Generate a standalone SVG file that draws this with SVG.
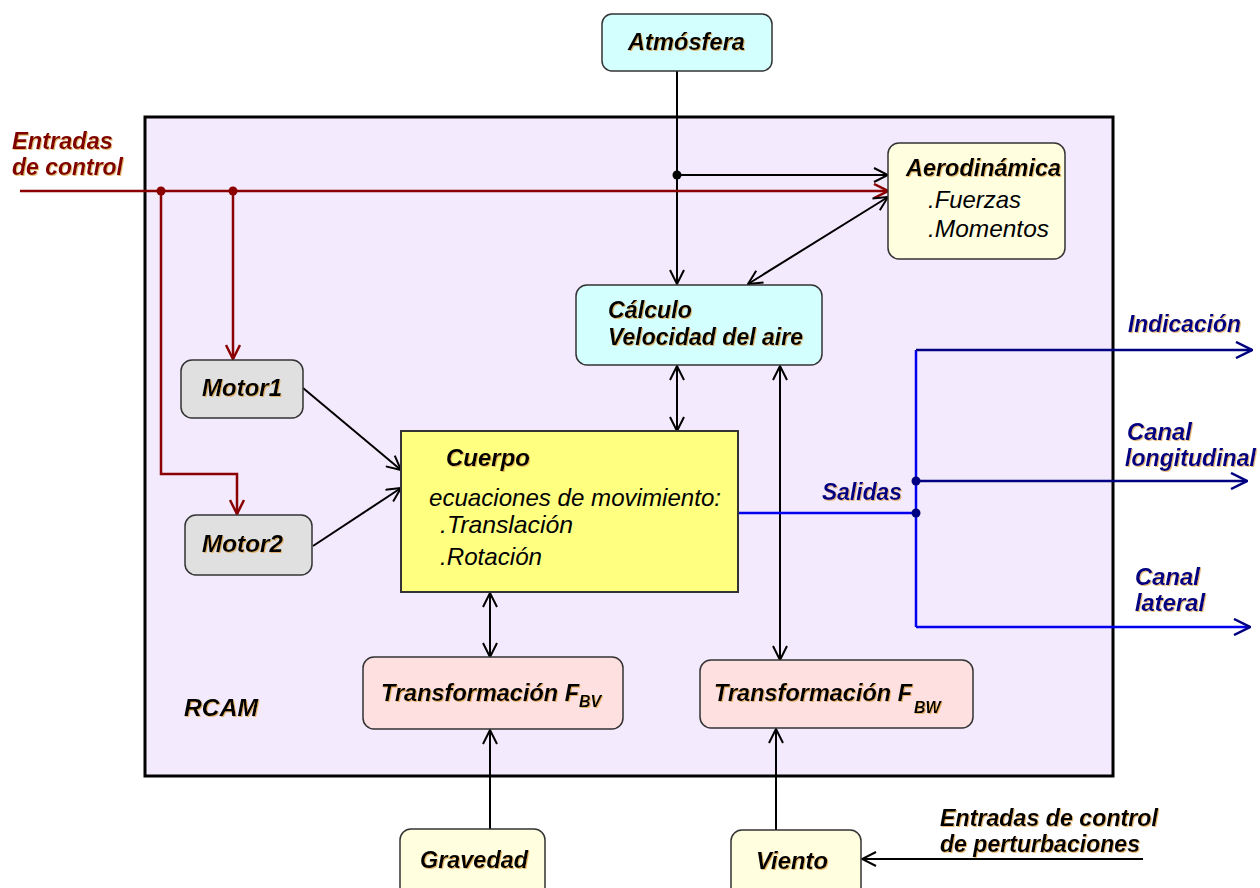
<svg xmlns="http://www.w3.org/2000/svg" width="1260" height="888" viewBox="0 0 1260 888">
<defs>
<style>
.t{font-family:"Liberation Sans",Arial,sans-serif;font-style:italic;font-size:24px;fill:#000}
.b{font-weight:bold;filter:url(#sh)}
.red{fill:#800000}
.blu{fill:#000080}
.tr{font-size:23.5px}
.sub{font-size:16px}
.node{stroke:#333;stroke-width:1.5}
.ln{fill:none;stroke:#000;stroke-width:2}
.lr{fill:none;stroke:#8b0000;stroke-width:2.5}
.lb{fill:none;stroke:#0000ee;stroke-width:2.5}
.ln2{fill:none;stroke:#000080;stroke-width:2.5}
</style>
<filter id="sh" x="-5%" y="-20%" width="110%" height="150%">
<feDropShadow dx="1" dy="1" stdDeviation="0.6" flood-color="#e0a040" flood-opacity="0.7"/>
</filter>
<marker id="ak" viewBox="0 0 16 16" refX="15" refY="8" markerWidth="16" markerHeight="16" markerUnits="userSpaceOnUse" orient="auto-start-reverse">
<path d="M1,1 L15,8 L1,15" fill="none" stroke="#000" stroke-width="2"/>
</marker>
<marker id="ar" viewBox="0 0 16 16" refX="15" refY="8" markerWidth="16" markerHeight="16" markerUnits="userSpaceOnUse" orient="auto-start-reverse">
<path d="M1,1 L15,8 L1,15" fill="none" stroke="#8b0000" stroke-width="2.5"/>
</marker>
<marker id="ab" viewBox="0 0 18 18" refX="17" refY="9" markerWidth="18" markerHeight="18" markerUnits="userSpaceOnUse" orient="auto">
<path d="M1,1 L17,9 L1,17" fill="none" stroke="#000080" stroke-width="2.5"/>
</marker>
</defs>
<rect width="1260" height="888" fill="#fff"/>

<g id="rcam">
<rect x="145" y="117" width="968" height="659" fill="#f4eafd" stroke="#000" stroke-width="3"/>
<text class="t b" x="184" y="716" textLength="74" lengthAdjust="spacingAndGlyphs">RCAM</text>
</g>

<g id="connectors">
<path class="ln" d="M677,71 V284" marker-end="url(#ak)"/>
<path class="ln" d="M677,175 H888" marker-end="url(#ak)"/>
<path class="lr" d="M20,191 H888" marker-end="url(#ar)"/>
<path class="lr" d="M233,191 V359" marker-end="url(#ar)"/>
<path class="lr" d="M161,191 V474 H237 V514" marker-end="url(#ar)"/>
<path class="ln" d="M888,197 L748,284" marker-start="url(#ak)" marker-end="url(#ak)"/>
<path class="ln" d="M303,388 L401,470" marker-end="url(#ak)"/>
<path class="ln" d="M313,546 L401,488" marker-end="url(#ak)"/>
<path class="ln" d="M677,366 V431" marker-start="url(#ak)" marker-end="url(#ak)"/>
<path class="ln" d="M780,366 V660" marker-start="url(#ak)" marker-end="url(#ak)"/>
<path class="ln" d="M490,593 V657" marker-start="url(#ak)" marker-end="url(#ak)"/>
<path class="ln" d="M490,829 V730" marker-end="url(#ak)"/>
<path class="ln" d="M776,830 V729" marker-end="url(#ak)"/>
<path class="ln" stroke-width="2.5" d="M1143,859 H862" marker-end="url(#ak)"/>
<path class="lb" d="M738,513 H916"/>
<path class="lb" d="M916,350 V627"/>
<path class="ln2" d="M916,350 H1252" marker-end="url(#ab)"/>
<path class="ln2" d="M916,481 H1247" marker-end="url(#ab)"/>
<path class="lb" d="M916,627 H1250" marker-end="url(#ab)"/>
<circle cx="677" cy="175" r="4.5" fill="#000"/>
<circle cx="161" cy="191" r="4.5" fill="#8b0000"/>
<circle cx="233" cy="191" r="4.5" fill="#8b0000"/>
<circle cx="916" cy="481" r="4.5" fill="#000080"/>
<circle cx="916" cy="513" r="4.5" fill="#000080"/>
</g>

<g id="entradas-control">
<text class="t b red" x="12" y="149" textLength="101" lengthAdjust="spacingAndGlyphs">Entradas</text>
<text class="t b red" x="12" y="175" textLength="111" lengthAdjust="spacingAndGlyphs">de control</text>
</g>

<g id="atmosfera">
<rect class="node" x="602" y="14" width="170" height="57" rx="10" fill="#d4ffff"/>
<text class="t b" x="628" y="50" textLength="117" lengthAdjust="spacingAndGlyphs">Atmósfera</text>
</g>

<g id="aerodinamica">
<rect class="node" x="888" y="143" width="177" height="116" rx="11" fill="#ffffe0"/>
<text class="t b" x="906" y="176" textLength="155" lengthAdjust="spacingAndGlyphs">Aerodinámica</text>
<text class="t" x="928" y="208" textLength="93" lengthAdjust="spacingAndGlyphs">.Fuerzas</text>
<text class="t" x="928" y="237" textLength="121" lengthAdjust="spacingAndGlyphs">.Momentos</text>
</g>

<g id="calculo">
<rect class="node" x="576" y="285" width="246" height="80" rx="11" fill="#d4ffff"/>
<text class="t b" x="608" y="318" textLength="84" lengthAdjust="spacingAndGlyphs">Cálculo</text>
<text class="t b" x="608" y="345" textLength="195" lengthAdjust="spacingAndGlyphs">Velocidad del aire</text>
</g>

<g id="motor1">
<rect class="node" x="181" y="360" width="122" height="58" rx="11" fill="#e0e0e0"/>
<text class="t b" x="202" y="396" textLength="80" lengthAdjust="spacingAndGlyphs">Motor1</text>
</g>

<g id="motor2">
<rect class="node" x="185" y="515" width="127" height="60" rx="11" fill="#e0e0e0"/>
<text class="t b" x="202" y="552" textLength="81" lengthAdjust="spacingAndGlyphs">Motor2</text>
</g>

<g id="cuerpo">
<rect x="401" y="431" width="337" height="161" fill="#ffff80" stroke="#333" stroke-width="2"/>
<text class="t b" x="446" y="466" textLength="84" lengthAdjust="spacingAndGlyphs">Cuerpo</text>
<text class="t" x="429" y="506" textLength="292" lengthAdjust="spacingAndGlyphs">ecuaciones de movimiento:</text>
<text class="t" x="440" y="533" textLength="133" lengthAdjust="spacingAndGlyphs">.Translación</text>
<text class="t" x="440" y="565" textLength="102" lengthAdjust="spacingAndGlyphs">.Rotación</text>
</g>

<g id="transformacion-fbv">
<rect class="node" x="363" y="657" width="260" height="72" rx="11" fill="#ffe0e0"/>
<text class="t b tr" x="381" y="701">Transformación F<tspan class="sub" dy="6">BV</tspan></text>
</g>

<g id="transformacion-fbw">
<rect class="node" x="700" y="660" width="273" height="68" rx="11" fill="#ffe0e0"/>
<text class="t b tr" x="714" y="701">Transformación F<tspan class="sub" dx="2" dy="12">BW</tspan></text>
</g>

<g id="gravedad">
<rect class="node" x="400" y="829" width="145" height="70" rx="11" fill="#ffffe0"/>
<text class="t b" x="420" y="868" textLength="108" lengthAdjust="spacingAndGlyphs">Gravedad</text>
</g>

<g id="viento">
<rect class="node" x="731" y="830" width="130" height="70" rx="11" fill="#ffffe0"/>
<text class="t b" x="756" y="869" textLength="72" lengthAdjust="spacingAndGlyphs">Viento</text>
</g>

<g id="entradas-perturbaciones">
<text class="t b" x="940" y="826" textLength="218" lengthAdjust="spacingAndGlyphs">Entradas de control</text>
<text class="t b" x="940" y="852" textLength="200" lengthAdjust="spacingAndGlyphs">de perturbaciones</text>
</g>

<g id="salidas">
<text class="t b blu" x="822" y="500" textLength="80" lengthAdjust="spacingAndGlyphs">Salidas</text>
<text class="t b blu" x="1128" y="332" textLength="113" lengthAdjust="spacingAndGlyphs">Indicación</text>
<text class="t b blu" x="1127" y="440" textLength="65" lengthAdjust="spacingAndGlyphs">Canal</text>
<text class="t b blu" x="1125" y="466" textLength="131" lengthAdjust="spacingAndGlyphs">longitudinal</text>
<text class="t b blu" x="1135" y="585" textLength="65" lengthAdjust="spacingAndGlyphs">Canal</text>
<text class="t b blu" x="1135" y="611" textLength="70" lengthAdjust="spacingAndGlyphs">lateral</text>
</g>
</svg>
